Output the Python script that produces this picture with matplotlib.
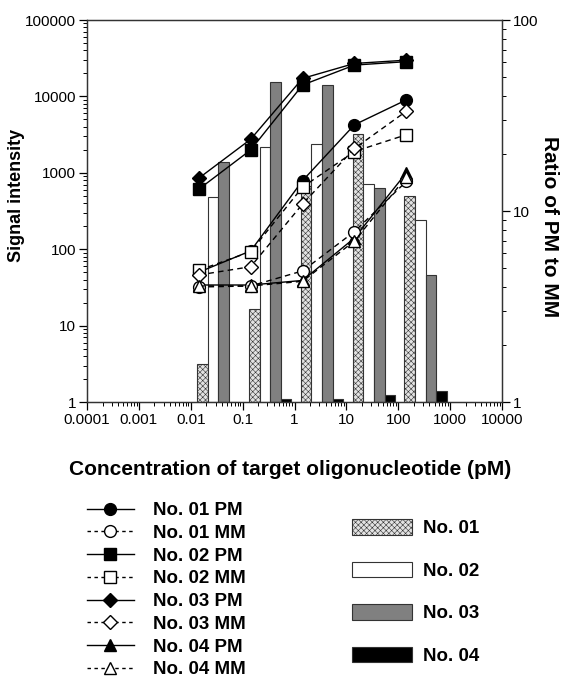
import numpy as np
import matplotlib
matplotlib.use('Agg')
import matplotlib.pyplot as plt
from matplotlib.lines import Line2D
from matplotlib.patches import Patch

plt.rcParams['font.family'] = ['Liberation Sans', 'DejaVu Sans']
plt.rcParams['hatch.color'] = '#c4c4c4'
plt.rcParams['hatch.linewidth'] = 0.4

# concentration of target (pM)
conc = [0.0143, 0.143, 1.43, 14.3, 143]

# signal intensity (left axis)
pm01 = [50, 95, 790, 4250, 9000]
mm01 = [32, 33, 52, 170, 770]
pm02 = [610, 1990, 14100, 25700, 28500]
mm02 = [53, 93, 650, 1900, 3150]
pm03 = [850, 2750, 17200, 27000, 29800]
mm03 = [46, 59, 390, 2080, 6400]
pm04 = [34, 34, 39, 140, 1000]
mm04 = [33, 33, 38, 128, 880]

# ratio of PM to MM (right axis, bars)
ratio01 = [1.58, 3.07, 13.5, 25.3, 12.0]
ratio02 = [11.8, 21.7, 22.3, 13.8, 9.0]
ratio03 = [18.0, 47.5, 45.7, 13.2, 4.6]
ratio04 = [1.0, 1.04, 1.04, 1.09, 1.14]

xtick_vals = [1e-4, 1e-3, 1e-2, 1e-1, 1, 10, 100, 1000, 10000]
xtick_labels = ['0.0001', '0.001', '0.01', '0.1', '1', '10', '100', '1000', '10000']
ytick_vals = [1, 10, 100, 1000, 10000, 100000]
ytick_labels = ['1', '10', '100', '1000', '10000', '100000']
rtick_vals = [1, 10, 100]
rtick_labels = ['1', '10', '100']

fig = plt.figure(figsize=(5.74, 6.82), dpi=100)
ax = fig.add_axes([87/574, 1-402/682, 415/574, 382/682])
ax2 = ax.twinx()

# bars on the ratio axis
ratios = [ratio01, ratio02, ratio03, ratio04]
bar_styles = [dict(facecolor='#e2e2e2', hatch='xxxxxx'),
              dict(facecolor='white'),
              dict(facecolor='#808080'),
              dict(facecolor='black')]
offset = -0.035   # decades
bw = 0.205        # decades
c = np.array(conc)
for k in range(4):
    left = c * 10**(offset + k*bw)
    width = left * (10**bw - 1)
    h = np.array(ratios[k]) - 1
    ax2.bar(left, h, width, bottom=1, align='edge', edgecolor='#333333',
            linewidth=0.8, **bar_styles[k])

ax2.set_yscale('log')
ax2.set_ylim(1, 100)
ax2.set_yticks(rtick_vals)
ax2.set_yticklabels(rtick_labels)

# lines on the signal axis
lw = 1.0
ms = 8.5
ax.plot(conc, pm01, '-', color='black', lw=lw, marker='o', ms=ms, mfc='black', mec='black', zorder=3)
ax.plot(conc, pm02, '-', color='black', lw=lw, marker='s', ms=ms, mfc='black', mec='black', zorder=3)
ax.plot(conc, pm03, '-', color='black', lw=lw, marker='D', ms=7, mfc='black', mec='black', zorder=3)
ax.plot(conc, pm04, '-', color='black', lw=lw, marker='^', ms=9, mfc='black', mec='black', zorder=3)
ax.plot(conc, mm01, '--', color='black', lw=lw, dashes=(4, 3), marker='o', ms=ms, mfc='white', mec='black', zorder=4)
ax.plot(conc, mm02, '--', color='black', lw=lw, dashes=(4, 3), marker='s', ms=ms, mfc='white', mec='black', zorder=4)
ax.plot(conc, mm03, '--', color='black', lw=lw, dashes=(4, 3), marker='D', ms=7, mfc='white', mec='black', zorder=4)
ax.plot(conc, mm04, '--', color='black', lw=lw, dashes=(4, 3), marker='^', ms=9, mfc='white', mec='black', zorder=4)

ax.set_zorder(ax2.get_zorder() + 1)
ax.patch.set_visible(False)

ax.set_xscale('log')
ax.set_yscale('log')
ax.set_xlim(1e-4, 1e4)
ax.set_ylim(1, 1e5)
ax.set_xticks(xtick_vals)
ax.set_xticklabels(xtick_labels)
ax.set_yticks(ytick_vals)
ax.set_yticklabels(ytick_labels)

for a in (ax, ax2):
    a.tick_params(which='major', direction='out', length=6, width=0.9, labelsize=11, pad=2)
    a.tick_params(which='minor', direction='out', length=3, width=0.7)
    for s in a.spines.values():
        s.set_linewidth(0.9)
        s.set_color('#333333')

ax.set_xlabel('Concentration of target oligonucleotide (pM)', fontsize=15, fontweight='bold')
ax.xaxis.set_label_coords(0.49, -0.152)
ax.set_ylabel('Signal intensity', fontsize=13, fontweight='bold')
ax.yaxis.set_label_coords(-0.149, 0.54)
ax2.set_ylabel('Ratio of PM to MM', fontsize=15, fontweight='bold', rotation=-90, va='center')
ax2.yaxis.set_label_coords(1.115, 0.46)

# legends
dash = (0, (2.5, 2.5))
line_handles = [
    Line2D([], [], color='black', lw=lw, marker='o', ms=ms, mfc='black', mec='black'),
    Line2D([], [], color='black', lw=lw, ls=dash, marker='o', ms=ms, mfc='white', mec='black'),
    Line2D([], [], color='black', lw=lw, marker='s', ms=ms, mfc='black', mec='black'),
    Line2D([], [], color='black', lw=lw, ls=dash, marker='s', ms=ms, mfc='white', mec='black'),
    Line2D([], [], color='black', lw=lw, marker='D', ms=7, mfc='black', mec='black'),
    Line2D([], [], color='black', lw=lw, ls=dash, marker='D', ms=7, mfc='white', mec='black'),
    Line2D([], [], color='black', lw=lw, marker='^', ms=9, mfc='black', mec='black'),
    Line2D([], [], color='black', lw=lw, ls=dash, marker='^', ms=9, mfc='white', mec='black'),
]
line_labels = ['No. 01 PM', 'No. 01 MM', 'No. 02 PM', 'No. 02 MM',
               'No. 03 PM', 'No. 03 MM', 'No. 04 PM', 'No. 04 MM']
leg1 = fig.legend(line_handles, line_labels, loc='upper left',
                  bbox_to_anchor=(87/574, 1-502/682), frameon=False,
                  prop={'size': 13.5, 'weight': 'bold'}, handlelength=2.5,
                  handletextpad=1.0, labelspacing=0.3, borderpad=0, borderaxespad=0)

bar_handles = [Patch(edgecolor='#333333', linewidth=0.8, **st) for st in bar_styles]
bar_labels = ['No. 01', 'No. 02', 'No. 03', 'No. 04']
leg2 = fig.legend(bar_handles, bar_labels, loc='upper left',
                  bbox_to_anchor=(352/574, 1-519/682), frameon=False,
                  prop={'size': 13.5, 'weight': 'bold'}, handlelength=3.2,
                  handleheight=0.9, handletextpad=0.6, labelspacing=1.3,
                  borderpad=0, borderaxespad=0)

fig.savefig('out.png', dpi=100)
